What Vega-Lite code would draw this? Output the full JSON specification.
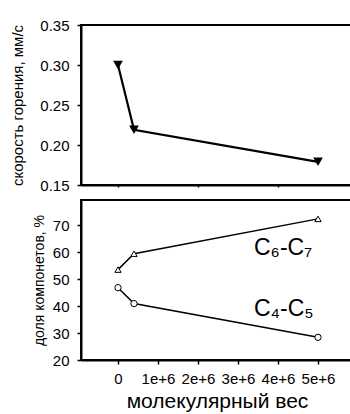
{
  "$schema": "https://vega.github.io/schema/vega-lite/v6.json",
  "padding": {"left": 8, "top": 17, "right": 0, "bottom": 0},
  "spacing": 5,
  "config": {
    "font": "Liberation Sans",
    "view": {"stroke": "black", "strokeWidth": 2},
    "axis": {
      "grid": false,
      "domainColor": "black",
      "domainWidth": 2,
      "tickColor": "black",
      "tickWidth": 1.5,
      "labelColor": "black",
      "titleColor": "black",
      "labelFont": "Liberation Sans",
      "titleFont": "Liberation Sans",
      "titleFontWeight": "normal",
      "labelOverlap": false,
      "labelSeparation": 0
    }
  },
  "datasets": {
    "speed": [
      {"mw": 0, "v": 0.30},
      {"mw": 400000, "v": 0.219},
      {"mw": 5000000, "v": 0.179}
    ],
    "frac": [
      {"mw": 0, "pct": 53.5, "series": "C6-C7"},
      {"mw": 400000, "pct": 59.4, "series": "C6-C7"},
      {"mw": 5000000, "pct": 72.3, "series": "C6-C7"},
      {"mw": 0, "pct": 46.8, "series": "C4-C5"},
      {"mw": 400000, "pct": 40.9, "series": "C4-C5"},
      {"mw": 5000000, "pct": 28.4, "series": "C4-C5"}
    ],
    "labels": [
      {"mw": 3400000, "pct": 58.9, "label": "C₆-C₇"},
      {"mw": 3400000, "pct": 36.3, "label": "C₄-C₅"}
    ]
  },
  "vconcat": [
    {
      "width": 272,
      "height": 160,
      "data": {"name": "speed"},
      "encoding": {
        "x": {"field": "mw", "type": "quantitative", "scale": {"domain": [-925000, 5875000], "nice": false, "zero": false},
          "axis": {"values": [0, 2000000, 4000000], "labels": false, "title": null, "tickSize": 2}},
        "y": {"field": "v", "type": "quantitative", "scale": {"domain": [0.15, 0.35], "nice": false, "zero": false},
          "axis": {"values": [0.15, 0.2, 0.25, 0.3, 0.35], "format": ".2f", "tickSize": 4, "labelPadding": 8, "labelFontSize": 15, "labelOverlap": false,
            "title": "скорость горения, мм/с", "titleFontSize": 15, "titleX": -64, "titleBaseline": "middle"}}
      },
      "layer": [
        {"mark": {"type": "line", "color": "black", "strokeWidth": 2.2}},
        {"mark": {"type": "point", "shape": "triangle-down", "filled": true, "color": "black", "size": 95, "opacity": 1}}
      ]
    },
    {
      "width": 272,
      "height": 160,
      "encoding": {
        "x": {"field": "mw", "type": "quantitative", "scale": {"domain": [-925000, 5875000], "nice": false, "zero": false},
          "axis": {"values": [0, 1000000, 2000000, 3000000, 4000000, 5000000], "tickSize": 4, "labelPadding": 7, "labelFontSize": 15, "labelOverlap": false,
            "labelExpr": "datum.value == 0 ? '0' : (datum.value / 1000000) + 'e+6'",
            "title": "молекулярный вес", "titleFontSize": 21, "titlePadding": 4}},
        "y": {"field": "pct", "type": "quantitative", "scale": {"domain": [20, 79.3], "nice": false, "zero": false},
          "axis": {"values": [20, 30, 40, 50, 60, 70], "tickSize": 4, "labelPadding": 8, "labelFontSize": 15, "labelOverlap": false,
            "title": "доля компонетов, %", "titleFontSize": 14, "titleX": -42, "titleBaseline": "middle"}}
      },
      "layer": [
        {
          "data": {"name": "frac"},
          "mark": {"type": "line", "color": "black", "strokeWidth": 1.5},
          "encoding": {"detail": {"field": "series"}}
        },
        {
          "data": {"name": "frac"},
          "mark": {"type": "point", "filled": true, "fill": "white", "stroke": "black", "strokeWidth": 1, "size": 40, "opacity": 1},
          "encoding": {
            "shape": {"field": "series", "type": "nominal", "scale": {"domain": ["C6-C7", "C4-C5"], "range": ["triangle-up", "circle"]}, "legend": null}
          }
        },
        {
          "data": {"name": "labels"},
          "mark": {"type": "text", "align": "left", "baseline": "alphabetic", "fontSize": 23, "font": "Liberation Sans", "color": "black"},
          "encoding": {"text": {"field": "label"}}
        }
      ]
    }
  ]
}
